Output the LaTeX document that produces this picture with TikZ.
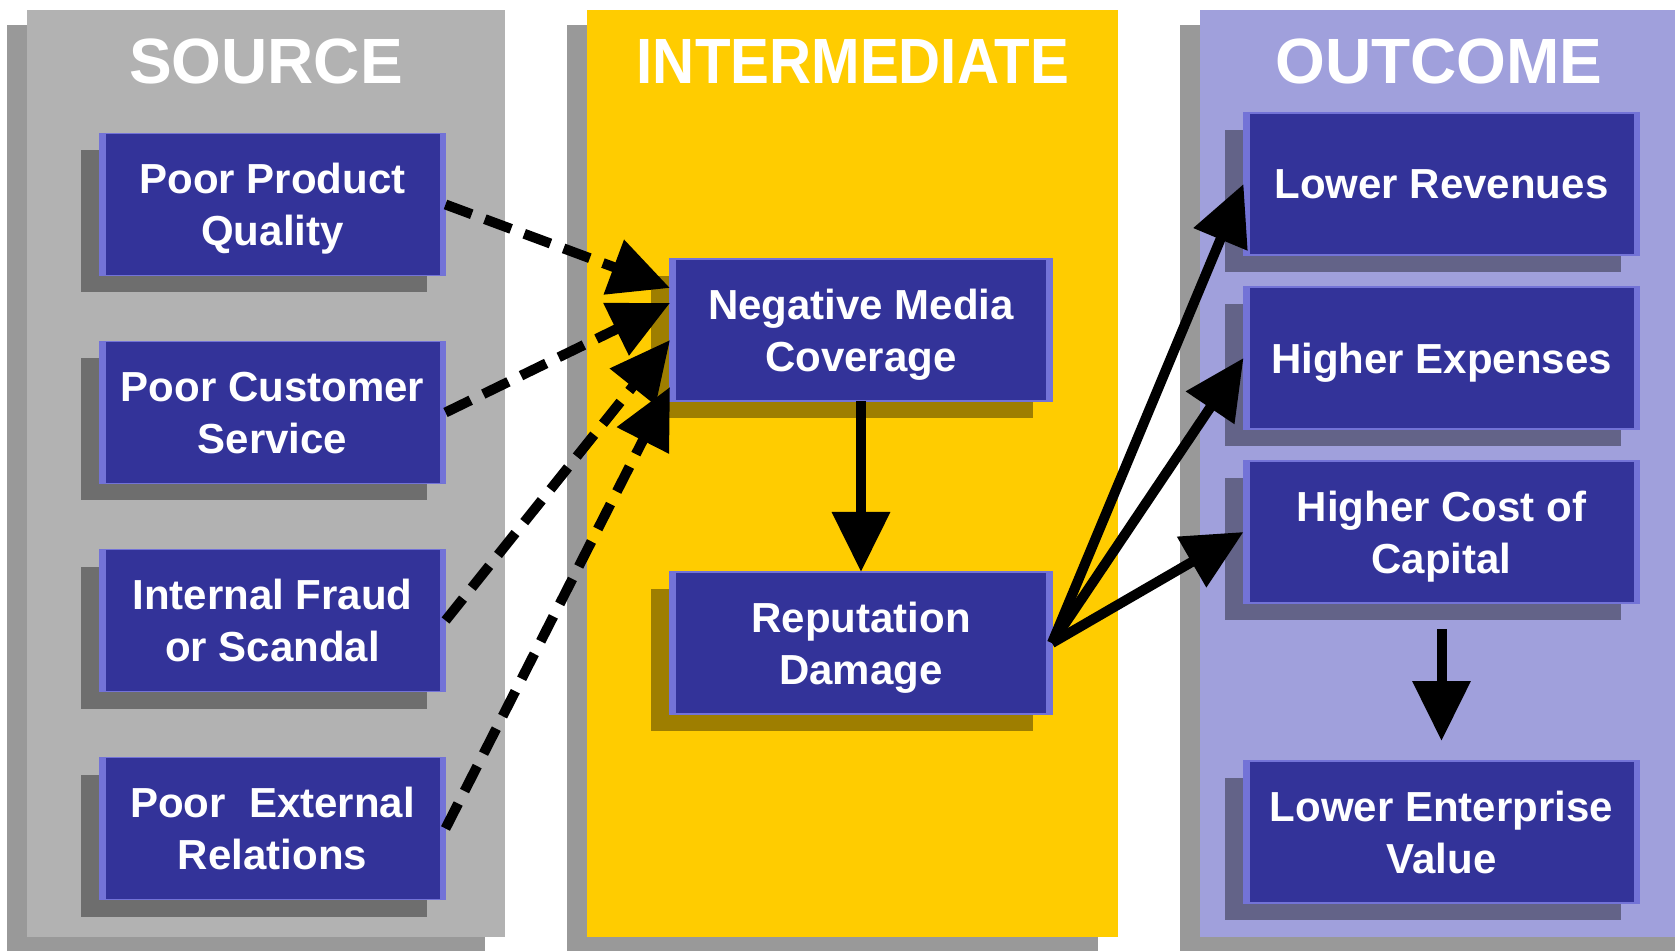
\documentclass[tikz,border=0pt]{standalone}
\usepackage{fontspec}
\setmainfont{Liberation Sans}
\usetikzlibrary{arrows.meta,positioning,shadows}
\definecolor{srcgrey}{RGB}{178,178,178}
\definecolor{midgold}{RGB}{255,204,0}
\definecolor{lavender}{RGB}{160,160,220}
\definecolor{riskblue}{RGB}{51,51,153}
\definecolor{bevel}{RGB}{115,115,215}

\begin{document}
\begin{tikzpicture}[x=0.5pt, y=-0.5pt,
 panel/.style={drop shadow={shadow xshift=-10pt, shadow yshift=-7.5pt, fill=black, opacity=0.4}},
 title/.style={text=white, font=\fontsize{32}{36}\selectfont\bfseries, inner sep=0pt},
 box/.style={fill=riskblue, draw=bevel, line width=0.8pt, text=white, align=center, font=\fontsize{21}{26}\selectfont\bfseries, minimum height=71pt, text depth=0pt, inner sep=0pt, outer sep=0pt,
  drop shadow={shadow xshift=-9.5pt, shadow yshift=-8.5pt, fill=black, opacity=0.38},
  path picture={\fill[bevel] (path picture bounding box.north west) rectangle ([xshift=3pt]path picture bounding box.south west);
   \fill[bevel] ([xshift=-3pt]path picture bounding box.north east) rectangle (path picture bounding box.south east);}},
 srcbox/.style={box, minimum width=173pt},
 midbox/.style={box, minimum width=191pt},
 outbox/.style={box, minimum width=198pt},
 dasharr/.style={-{Triangle[length=30pt,width=28pt]}, line width=5pt, dash pattern=on 14pt off 7pt},
 arr/.style={-{Triangle[length=30pt,width=28pt]}, line width=5pt}]
\useasboundingbox (0,0) rectangle (1675,951);
\fill[srcgrey, panel] (27,10) rectangle (505,937);
\fill[midgold, panel] (587,10) rectangle (1118,937);
\fill[lavender, panel] (1200,10) rectangle (1700,937);
\node[title] (srctitle) at (266,61) {SOURCE};
\node[title] (midtitle) at (853,61) {\scalebox{0.91}[1]{INTERMEDIATE}};
\node[title] (outtitle) at (1439,61) {OUTCOME};
\node[srcbox] (ppq) at (272.5,204.5) {Poor Product\\Quality};
\node[srcbox, below=33pt of ppq] (pcs) {Poor Customer\\Service};
\node[srcbox, below=33pt of pcs] (ifs) {Internal Fraud\\or Scandal};
\node[srcbox, below=33pt of ifs] (per) {Poor~ External\\Relations};
\node[midbox] (nmc) at (861,330) {Negative Media\\Coverage};
\node[midbox, below=85.5pt of nmc] (rd) {Reputation\\Damage};
\node[outbox] (lr) at (1441.5,184) {Lower Revenues};
\node[outbox, below=16pt of lr] (he) {Higher Expenses};
\node[outbox, below=16pt of he] (hcc) {Higher Cost of\\Capital};
\node[outbox, below=79pt of hcc] (lev) {Lower Enterprise\\Value};
\draw[dasharr] (ppq.east) -- ([yshift=21pt]nmc.west);
\draw[dasharr] (pcs.east) -- ([yshift=13.5pt]nmc.west);
\draw[dasharr] (ifs.east) -- ([yshift=-5pt]nmc.west);
\draw[dasharr] (per.east) -- ([yshift=-28.5pt]nmc.west);
\draw[arr] (nmc) -- (rd);
\draw[arr] (rd.east) -- (lr.west);
\draw[arr] (rd.east) -- (he.west);
\draw[arr] (rd.east) -- (hcc.west);
\draw[arr, shorten <=13pt, shorten >=10pt] (hcc) -- (lev);
\end{tikzpicture}
\end{document}
